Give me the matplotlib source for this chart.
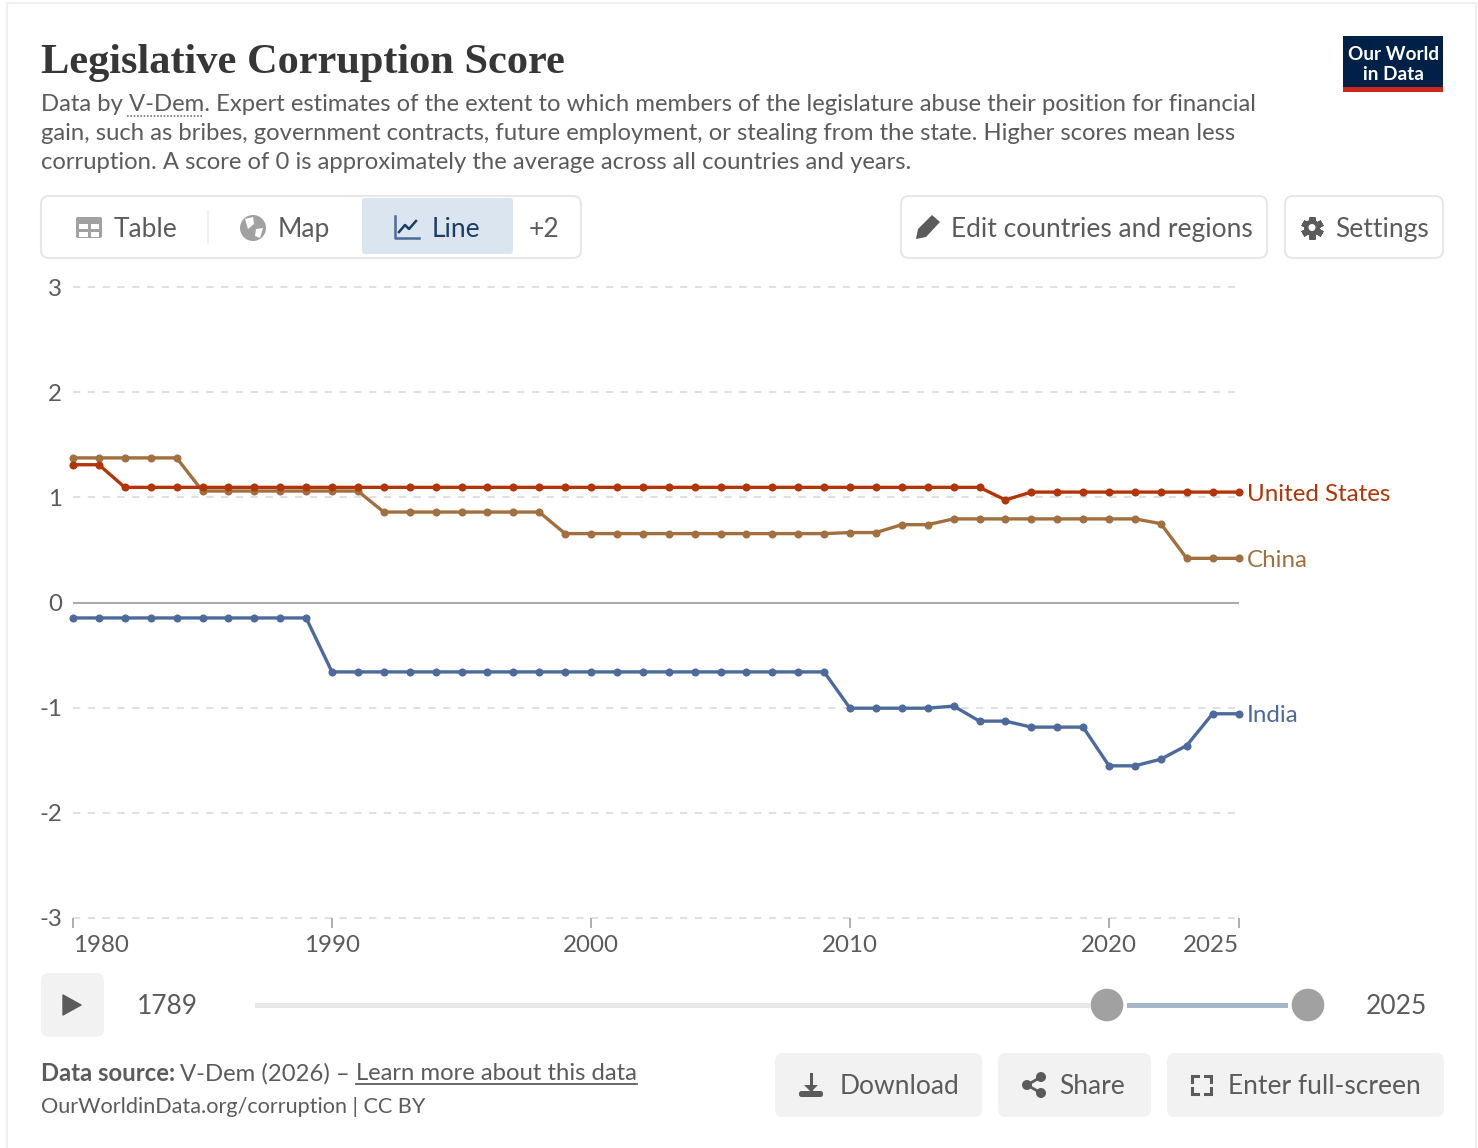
#!/usr/bin/env python3
"""Legislative Corruption Score line chart, Our World in Data style."""

import matplotlib
matplotlib.use('Agg')
import matplotlib.pyplot as plt
from matplotlib.patches import Circle, FancyBboxPatch, Polygon, Rectangle

W, H = 1478, 1148

years = list(range(1980, 2026))
united_states = [1.31, 1.31] + [1.095] * 34 + [0.975] + [1.05] * 9
china = ([1.375] * 5 + [1.06] * 7 + [0.86] * 7 + [0.655] * 11
         + [0.665, 0.665, 0.74, 0.74] + [0.795] * 8 + [0.75, 0.42, 0.42, 0.42])
india = ([-0.147] * 10 + [-0.66] * 20 + [-1.005] * 4 + [-0.985]
         + [-1.128] * 2 + [-1.185] * 3 + [-1.553] * 2
         + [-1.49, -1.36, -1.058, -1.058])

y_ticks = [-3, -2, -1, 0, 1, 2, 3]
x_ticks = [1980, 1990, 2000, 2010, 2020, 2025]

series = [
    ('China', china, '#a2703f'),
    ('India', india, '#4c6a9c'),
    ('United States', united_states, '#b13507'),
]

title = 'Legislative Corruption Score'
subtitle = [
    'Data by V-Dem. Expert estimates of the extent to which members of the legislature abuse their position for financial',
    'gain, such as bribes, government contracts, future employment, or stealing from the state. Higher scores mean less',
    'corruption. A score of 0 is approximately the average across all countries and years.',
]

TEXT = '#5b5b5b'
ICON = '#5b5b5b'
BORDER = '#e7e7e7'
BTN = '#f2f2f2'

plt.rcParams['font.family'] = ['Lato', 'DejaVu Sans']

fig = plt.figure(figsize=(W / 100, H / 100), dpi=100, facecolor='white')

# Overlay in pixel coordinates for everything around the chart
ui = fig.add_axes([0, 0, 1, 1])
ui.set_xlim(0, W)
ui.set_ylim(H, 0)
ui.axis('off')


def box(x0, y0, x1, y1, fc='white', ec='none', lw=0, r=8, z=1):
    ui.add_patch(FancyBboxPatch((x0, y0), x1 - x0, y1 - y0,
                                boxstyle=f'round,pad=0,rounding_size={r}',
                                fc=fc, ec=ec, lw=lw, zorder=z))


def label(x, y, s, size=19.0, color=TEXT, ha='left', va='center', **kw):
    ui.text(x, y, s, fontsize=size, color=color, ha=ha, va=va, **kw)


# Page border
ui.plot([7, 7], [3, H], color='#f0f0f0', lw=1.5)
ui.plot([7, 1476], [3, 3], color='#f0f0f0', lw=1.5)
ui.plot([1476, 1476], [3, H], color='#f0f0f0', lw=1.5)

# Header
ui.text(41, 63, title, fontsize=30.5, color='#363636', family='Liberation Serif',
        fontweight='bold', va='center')
for i, line in enumerate(subtitle):
    label(41, 104.6 + i * 29, line, size=17.2)
ui.plot([127, 202], [116, 116], color='#777777', lw=1.2, ls=(0, (1, 1)))

# Logo
ui.add_patch(Rectangle((1343, 36), 100, 56, fc='#002147', ec='none'))
ui.add_patch(Rectangle((1343, 87), 100, 5, fc='#ce261e', ec='none'))
label(1393, 54, 'Our World', size=13.6, color='white', ha='center', fontweight='bold')
label(1393, 74, 'in Data', size=13.6, color='white', ha='center', fontweight='bold')

# Tabs
box(41, 196, 581, 258, ec=BORDER, lw=1.5)
box(362, 198, 513, 254, fc='#dbe5f0', r=3, z=2)
ui.plot([208, 208], [211, 243], color='#eeeeee', lw=1.2)
label(114, 229.5, 'Table')
label(278, 229.5, 'Map')
label(432, 229.5, 'Line', color='#1d3d63', zorder=3)
label(529, 229.5, '+2')

# Table icon
box(76, 217, 102, 238, fc='#a1a1a1', r=2, z=2)
for rx, ry in [(79, 224), (90.5, 224), (79, 232), (90.5, 232)]:
    ui.add_patch(Rectangle((rx, ry), 8.5, 4.5, fc='white', ec='none', zorder=3))

# Globe icon
ui.add_patch(Circle((253, 228), 13, fc='#a1a1a1', ec='none', zorder=2))
ui.add_patch(Polygon([(245, 219), (253, 217), (254, 224), (248, 229)],
                     fc='white', ec='none', zorder=3))
ui.add_patch(Polygon([(256, 229), (263, 228), (260, 238), (255, 236)],
                     fc='white', ec='none', zorder=3))

# Line icon
ui.plot([395, 395, 419], [216, 238, 238], color='#4c6a9c', lw=1.8, zorder=3)
ui.plot([399, 405, 409, 416], [232, 225, 229, 221], color='#1d3d63', lw=1.8, zorder=3)

# Edit and settings buttons
box(901, 196, 1267, 258, ec=BORDER, lw=1.5)
box(1285, 196, 1443, 258, ec=BORDER, lw=1.5)
label(951, 229.5, 'Edit countries and regions')
label(1335, 229.5, 'Settings')
ui.add_patch(Polygon([(916, 239), (918, 229), (932, 215), (940, 222), (926, 237)],
                     fc=ICON, ec='none', zorder=3))
ui.plot([1312], [227.5], marker=(6, 2, 0), ms=16, mew=4.5, color=ICON, zorder=3)
ui.add_patch(Circle((1312, 227.5), 8, fc=ICON, ec='none', zorder=3))
ui.add_patch(Circle((1312, 227.5), 3.5, fc='white', ec='none', zorder=4))

# Timeline
box(41, 973, 104, 1037, fc=BTN, r=8)
ui.add_patch(Polygon([(63, 995), (63, 1015), (81, 1005)], fc=ICON, ec=ICON, lw=1,
                     joinstyle='round', zorder=2))
label(137, 1006.5, '1789')
label(1366, 1006.5, '2025')
ui.add_patch(Rectangle((255, 1002.5), 835, 5, fc=BORDER, ec='none'))
ui.add_patch(Rectangle((1127, 1002.5), 161, 5, fc='#a4b6ca', ec='none'))
ui.add_patch(Circle((1107, 1005), 16.3, fc='#a1a1a1', ec='none', zorder=2))
ui.add_patch(Circle((1308, 1005), 16.3, fc='#a1a1a1', ec='none', zorder=2))

# Footer
label(41, 1073.5, 'Data source:', size=17.2, fontweight='bold')
label(180, 1073.5, 'V-Dem (2026) –', size=17.2)
label(356, 1073.5, 'Learn more about this data', size=17.2)
ui.plot([356, 637], [1083.5, 1083.5], color=TEXT, lw=1.3)
label(41, 1107, 'OurWorldinData.org/corruption | CC BY', size=15.6)

box(775, 1053, 982, 1117, fc=BTN)
box(998, 1053, 1151, 1117, fc=BTN)
box(1167, 1053, 1444, 1117, fc=BTN)
label(840, 1086.5, 'Download')
label(1059, 1086.5, 'Share')
label(1228, 1086.5, 'Enter full-screen')

# Download icon
ui.plot([811, 811], [1074, 1090], color=ICON, lw=2.2, zorder=3)
ui.add_patch(Polygon([(804, 1085), (818, 1085), (811, 1092)], fc=ICON, ec='none', zorder=3))
box(799, 1091, 823, 1097, fc=ICON, r=2.5, z=3)

# Share icon
for sx, sy in [(1041, 1077), (1027, 1085), (1041, 1093)]:
    ui.add_patch(Circle((sx, sy), 5, fc=ICON, ec='none', zorder=3))
ui.plot([1041, 1027, 1041], [1077, 1085, 1093], color=ICON, lw=2, zorder=3)

# Full-screen icon
for cx, cy, dx, dy in [(1192, 1076, 1, 1), (1211, 1076, -1, 1),
                       (1192, 1094, 1, -1), (1211, 1094, -1, -1)]:
    ui.plot([cx + dx * 6, cx, cx], [cy, cy, cy + dy * 6], color=ICON, lw=2.2,
            solid_joinstyle='miter', zorder=3)

# Chart
ax = fig.add_axes([73 / W, 1 - 918 / H, (1238.5 - 73) / W, (918 - 287) / H])
ax.patch.set_alpha(0)
ax.set_xlim(1980, 2025)
ax.set_ylim(-3, 3)
for spine in ax.spines.values():
    spine.set_visible(False)

for v in y_ticks:
    if v == 0:
        ax.axhline(0, color='#a1a1a1', lw=1.3, zorder=1)
    else:
        ax.plot([1980, 2024.85], [v, v], color='#dddddd', lw=1.3,
                ls=(0, (4, 4.2)), zorder=1, clip_on=False)

ax.set_yticks(y_ticks)
ax.set_yticklabels([str(v) for v in y_ticks], fontsize=17.3, color=TEXT)
ax.tick_params(axis='y', length=0, pad=8)

ax.set_xticks(x_ticks)
ax.set_xticklabels([str(v) for v in x_ticks], fontsize=17.4, color=TEXT)
ax.tick_params(axis='x', length=7, width=1.2, color='#a1a1a1', pad=5.5)
tick_labels = ax.get_xticklabels()
tick_labels[0].set_ha('left')
tick_labels[-1].set_ha('right')

for name, values, color in series:
    ax.plot(years, values, color=color, lw=2.4, marker='o', ms=5.8, mew=0,
            clip_on=False, zorder=3)
    ax.annotate(name, (years[-1], values[-1]), xytext=(6, -1.5),
                textcoords='offset points', color=color, fontsize=17.4,
                va='center', annotation_clip=False)

fig.savefig('out.png', dpi=100)
print('Saved: out.png')
